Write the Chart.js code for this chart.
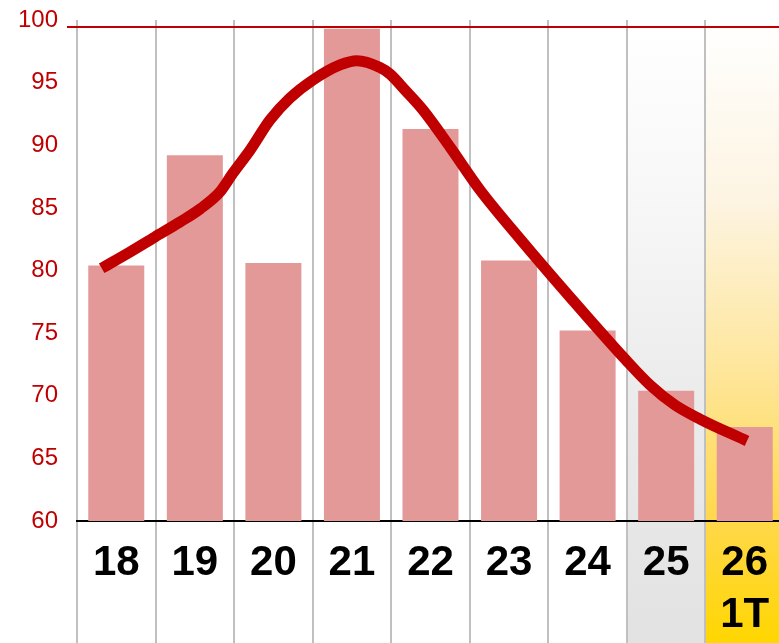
<!DOCTYPE html>
<html lang="fi">
<head>
<meta charset="utf-8">
<title>Kaavio</title>
<script src="https://cdn.jsdelivr.net/npm/chart.js@4/dist/chart.umd.min.js"></script>
<style>
  html, body { margin: 0; padding: 0; background: #fff; overflow: hidden; }
  #wrap { width: 784px; height: 643px; }
</style>
</head>
<body>
<div id="wrap"><canvas id="chart" width="784" height="643"></canvas></div>
<script>
// Kategoriat ja pylväiden arvot
const categories = ['18', '19', '20', '21', '22', '23', '24', '25', ['26', '1T']];
const barValues = [80.4, 89.2, 80.6, 99.3, 91.3, 80.8, 75.2, 70.4, 67.5];

// Trendiviiva, x = kategorian indeksi
const trendX = [-0.186, 0.175, 0.493, 0.811, 1.066, 1.32, 1.486, 1.702, 1.957, 2.211, 2.504, 2.848,
  3.064, 3.357, 3.484, 3.675, 3.904, 4.248, 4.63, 5.152, 5.776, 6.488, 6.794, 7.112, 7.43, 8.029];
const trendY = [80.18, 81.48, 82.68, 83.87, 84.91, 86.27, 87.78, 89.60, 92.02, 93.77, 95.21, 96.41,
  96.75, 96.21, 95.69, 94.41, 92.81, 89.86, 86.43, 82.44, 77.88, 72.85, 70.86, 69.26, 68.14, 66.39];

// Y-akselin asteikko ja raja
const yMin = 60;
const yMax = 100;
const yStep = 5;
const limitValue = 99.45;

// Korostetut sarakkeet (indeksi)
const greyColumn = 7;
const yellowColumn = 8;

const RED = '#c00000';

// Taustat ja raja-viiva
const columnBands = {
  id: 'columnBands',
  beforeDraw(chart) {
    const {ctx, chartArea, scales: {x}} = chart;
    const half = (x.getPixelForValue(1) - x.getPixelForValue(0)) / 2;
    const top = chartArea.top;
    const bottom = chart.height;

    const bands = [
      [greyColumn, [[0, '#ffffff'], [0.29, '#f7f7f7'], [0.58, '#ececec'], [1, '#e2e2e2']]],
      [yellowColumn, [[0, '#ffffff'], [0.29, '#fdf4e2'], [0.58, '#fee596'], [0.8, '#ffd84c'], [1, '#ffd600']]],
    ];
    ctx.save();
    bands.forEach(([col, stops]) => {
      const cx = x.getPixelForValue(col);
      const grad = ctx.createLinearGradient(0, top, 0, bottom);
      stops.forEach(([p, c]) => grad.addColorStop(p, c));
      ctx.fillStyle = grad;
      ctx.fillRect(cx - half, top, half * 2, bottom - top);
    });
    ctx.restore();
  },
  afterDraw(chart) {
    const {ctx, chartArea, scales: {y}} = chart;
    const py = Math.round(y.getPixelForValue(limitValue));
    ctx.save();
    ctx.strokeStyle = RED;
    ctx.lineWidth = 2;
    ctx.beginPath();
    ctx.moveTo(chartArea.left - 10, py);
    ctx.lineTo(chart.width, py);
    ctx.stroke();
    ctx.restore();
  },
};

const ctx = document.getElementById('chart').getContext('2d');

new Chart(ctx, {
  type: 'bar',
  data: {
    labels: categories,
    datasets: [
      {
        type: 'line',
        data: trendX.map((v, i) => ({x: v, y: trendY[i]})),
        xAxisID: 'xLine',
        borderColor: RED,
        borderWidth: 11,
        borderCapStyle: 'butt',
        cubicInterpolationMode: 'monotone',
        pointRadius: 0,
        fill: false,
        order: 0,
      },
      {
        data: barValues,
        backgroundColor: '#e49999',
        barPercentage: 0.713,
        categoryPercentage: 1,
        grouped: false,
        order: 1,
      },
    ],
  },
  options: {
    responsive: false,
    animation: false,
    layout: {padding: {top: 20, left: 0, right: 0, bottom: 0}},
    plugins: {legend: {display: false}, tooltip: {enabled: false}},
    scales: {
      x: {
        grid: {
          display: true,
          offset: true,
          color: '#c0c0c0',
          lineWidth: 2,
          drawTicks: true,
          tickLength: 122,
        },
        border: {display: true, color: '#000000', width: 2},
        ticks: {
          color: '#000000',
          font: {family: "'Liberation Sans', Arial, sans-serif", size: 42, weight: 'bold', lineHeight: 1.23},
          padding: -105,
          autoSkip: false,
          maxRotation: 0,
        },
        afterFit(scale) {
          scale.height = 122;
          scale.paddingTop = 0;
          scale.paddingBottom = 0;
        },
      },
      xLine: {
        type: 'linear',
        display: false,
        offset: false,
        grid: {offset: false},
        min: -0.5,
        max: 8.5,
      },
      y: {
        min: yMin,
        max: yMax,
        grid: {display: false, drawTicks: false},
        border: {display: false},
        ticks: {
          stepSize: yStep,
          color: RED,
          font: {family: "'Liberation Sans', Arial, sans-serif", size: 24},
          padding: 19,
        },
        afterFit(scale) {
          scale.width = 77;
          scale.paddingTop = 0;
          scale.paddingBottom = 0;
        },
      },
    },
  },
  plugins: [columnBands],
});
</script>
</body>
</html>
